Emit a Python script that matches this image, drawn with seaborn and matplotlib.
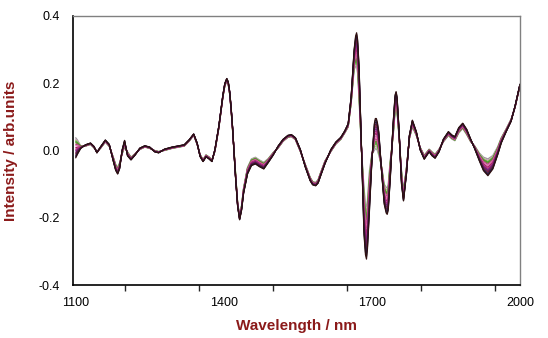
import matplotlib
matplotlib.use("Agg")
import matplotlib.pyplot as plt
import seaborn as sns
import pandas as pd
from matplotlib.ticker import MultipleLocator

# Wavelength grid (nm) of the read-off points
wavelength = [1100, 1104, 1110, 1120, 1130, 1137, 1143, 1150, 1160, 1168, 1176, 1181, 1185, 1189, 1194, 1199, 1205,
              1212, 1220, 1230, 1240, 1250, 1260, 1268, 1280, 1295, 1310, 1320, 1330, 1339, 1346,
              1352, 1358, 1364, 1370, 1376, 1382, 1390, 1398, 1402, 1406, 1409, 1412, 1415, 1418, 1421, 1424,
              1428, 1432, 1436, 1440, 1448, 1456, 1464, 1472, 1481, 1490, 1500, 1510, 1520, 1530, 1537, 1545,
              1555, 1565, 1575, 1580, 1586, 1591, 1595, 1605, 1617, 1627, 1637, 1645, 1652, 1658, 1664, 1667,
              1669, 1671, 1674, 1679, 1684, 1687, 1689, 1691, 1695, 1700, 1705, 1707, 1709, 1711, 1714, 1720,
              1725, 1729, 1731, 1733, 1737, 1743, 1747, 1749, 1751, 1755, 1760, 1764, 1770, 1776, 1782, 1790,
              1798, 1806, 1816, 1822, 1828, 1836, 1845, 1855, 1862, 1868, 1876, 1884, 1892, 1900, 1908, 1918,
              1926, 1935, 1945, 1955, 1962, 1972, 1982, 1990, 2000]

# Mean spectrum
mean_spectrum = [0.008, 0.010, 0.010, 0.015, 0.020, 0.010, -0.005, 0.008, 0.028, 0.015, -0.025, -0.050, -0.060, -0.045, -0.005, 0.020, -0.010,
                 -0.024, -0.012, 0.005, 0.012, 0.008, -0.002, -0.005, 0.002, 0.008, 0.012, 0.015, 0.030, 0.047, 0.020,
                 -0.015, -0.030, -0.016, -0.022, -0.030, 0.000, 0.070, 0.160, 0.195, 0.210, 0.200, 0.170, 0.120, 0.060, -0.010, -0.080,
                 -0.160, -0.200, -0.170, -0.120, -0.060, -0.035, -0.030, -0.038, -0.045, -0.030, -0.010, 0.010, 0.030, 0.042, 0.044, 0.035,
                 0.000, -0.045, -0.085, -0.097, -0.100, -0.092, -0.075, -0.035, 0.000, 0.022, 0.036, 0.055, 0.075, 0.150, 0.270, 0.295,
                 0.300, 0.280, 0.200, 0.000, -0.180, -0.235, -0.245, -0.220, -0.120, -0.020, 0.040, 0.050, 0.050, 0.042, 0.020, -0.060,
                 -0.130, -0.148, -0.150, -0.140, -0.060, 0.060, 0.140, 0.150, 0.135, 0.050, -0.080, -0.135, -0.060, 0.040, 0.080, 0.050,
                 0.005, -0.020, 0.000, -0.010, -0.017, 0.000, 0.030, 0.050, 0.040, 0.035, 0.060, 0.073, 0.055, 0.030, 0.010, -0.020,
                 -0.040, -0.050, -0.035, 0.000, 0.030, 0.060, 0.090, 0.130, 0.195]

# Signed half-spread between the spectra
spread = [-0.030, -0.020, -0.004, 0.002, 0.002, 0.002, -0.002, 0.002, 0.003, 0.003, -0.006, -0.009, -0.010, -0.009, 0.006, 0.010, -0.006,
          -0.004, -0.002, 0.002, 0.002, 0.002, -0.002, -0.002, 0.002, 0.002, 0.002, 0.002, 0.002, 0.002, 0.002,
          -0.003, -0.003, -0.003, -0.003, -0.003, 0.003, 0.003, 0.003, 0.004, 0.004, 0.004, 0.004, 0.004, 0.004, -0.004, -0.004,
          -0.005, -0.006, -0.007, -0.008, -0.010, -0.010, -0.010, -0.010, -0.010, -0.006, -0.004, 0.003, 0.003, 0.003, 0.003, 0.003,
          0.003, -0.004, -0.005, -0.005, -0.005, -0.005, -0.005, -0.004, 0.003, 0.003, 0.003, 0.003, 0.005, 0.010, 0.030, 0.045,
          0.050, 0.050, 0.050, 0.000, -0.070, -0.075, -0.078, -0.072, -0.060, -0.010, 0.040, 0.045, 0.045, 0.042, 0.035, -0.010,
          -0.030, -0.038, -0.040, -0.038, -0.030, 0.020, 0.025, 0.025, 0.024, 0.010, -0.020, -0.015, -0.010, 0.005, 0.010, 0.006,
          -0.004, -0.006, -0.004, -0.006, -0.006, -0.004, 0.004, 0.006, 0.006, 0.006, 0.008, 0.008, 0.008, 0.004, -0.004, -0.012,
          -0.020, -0.025, -0.020, -0.012, -0.008, -0.004, -0.003, 0.002, 0.002]

# Relative position of each spectrum inside the spread (one per line)
series_weight = [-1.0, -0.85, -0.7, -0.6, -0.5, -0.35, -0.2, 0.0, 0.15, 0.3, 0.45, 0.6, 0.75, 0.9, 1.0]
series_colors = ["#9a9a9a", "#c8a0b8", "#80c040", "#3a9a3a", "#6a8a2a", "#b04080", "#e070b0",
                 "#a02060", "#c03080", "#802080", "#602070", "#7a1a2a", "#3a1a4a", "#1a1a3a", "#301010"]

sns.set_theme(style="white")
plt.rcParams["font.family"] = ["Liberation Sans", "DejaVu Sans"]

rows = []
for i, w in enumerate(series_weight):
    for x, m, s in zip(wavelength, mean_spectrum, spread):
        rows.append({"wavelength": x, "intensity": m + w * s, "spectrum": f"s{i}"})
df = pd.DataFrame(rows)

fig = plt.figure(figsize=(5.48, 3.38), dpi=100)
ax = fig.add_axes([0.1332, 0.1568, 0.8157, 0.7960])
sns.lineplot(data=df, x="wavelength", y="intensity", hue="spectrum",
             palette=series_colors, legend=False, linewidth=0.9, ax=ax, sort=False)

ax.set_xlim(1094.5, 2000)
ax.set_ylim(-0.4, 0.4)
ax.set_xticks([1100, 1400, 1700, 2000])
ax.xaxis.set_minor_locator(MultipleLocator(150))
ax.set_yticks([-0.4, -0.2, 0.0, 0.2, 0.4])
ax.set_yticklabels(["-0.4", "-0.2", "0.0", "0.2", "0.4"])
ax.tick_params(axis="both", which="major", labelsize=9, colors="black", direction="out")
ax.tick_params(axis="y", which="major", length=6, width=1)
ax.tick_params(axis="x", which="major", length=5, width=1)
ax.tick_params(axis="x", which="minor", length=4, width=1, bottom=True)
ax.tick_params(axis="y", which="minor", left=False)

for side in ["left", "bottom"]:
    ax.spines[side].set_color("black")
    ax.spines[side].set_linewidth(1.2)
for side in ["top", "right"]:
    ax.spines[side].set_color("#808080")
    ax.spines[side].set_linewidth(1.0)

label_color = "#8b1a1a"
ax.set_xlabel("Wavelength / nm", fontsize=11, fontweight="bold", color=label_color, labelpad=7)
ax.set_ylabel("Intensity / arb.units", fontsize=11, fontweight="bold", color=label_color, labelpad=15)

fig.savefig("out.png", dpi=100)
